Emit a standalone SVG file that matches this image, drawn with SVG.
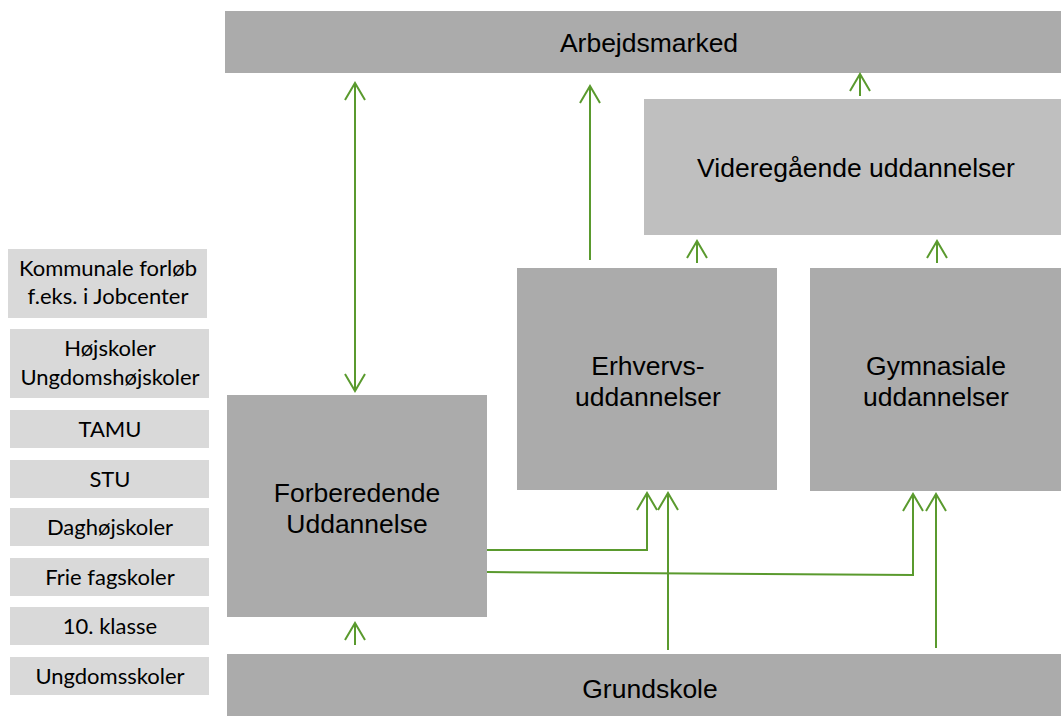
<svg xmlns="http://www.w3.org/2000/svg" width="1061" height="716" viewBox="0 0 1061 716">
<defs>
<style>
.dk{fill:#ABABAB}
.lt{fill:#BFBFBF}
.sm{fill:#D9D9D9}
.t{font-family:"Liberation Sans",Arial,sans-serif;font-size:26.5px;fill:#000;text-anchor:middle}
.s{font-family:Lato,"Noto Sans",sans-serif;font-size:22px;fill:#000;text-anchor:middle}
.c{fill:none;stroke:#5A9A2E;stroke-width:2}
</style>
<marker id="ah" viewBox="0 0 20 22" refX="18" refY="11" markerWidth="20" markerHeight="22" markerUnits="userSpaceOnUse" orient="auto-start-reverse">
<path d="M1,1 L18,11 L1,21" fill="none" stroke="#5A9A2E" stroke-width="2"/>
</marker>
</defs>
<rect width="1061" height="716" fill="#fff"/>
<g id="arbejdsmarked"><rect class="dk" x="225" y="11" width="836" height="62"/><text class="t" x="649" y="52">Arbejdsmarked</text></g>
<g id="videregaaende"><rect class="lt" x="644" y="99" width="417" height="136"/><text class="t" x="856" y="177">Videregående uddannelser</text></g>
<g id="erhvervs"><rect class="dk" x="517" y="268" width="260" height="222"/><text class="t" x="648" y="375">Erhvervs-</text><text class="t" x="648" y="406">uddannelser</text></g>
<g id="gymnasiale"><rect class="dk" x="810" y="268" width="251" height="223"/><text class="t" x="936" y="375">Gymnasiale</text><text class="t" x="936" y="406">uddannelser</text></g>
<g id="forberedende"><rect class="dk" x="227" y="395" width="260" height="222"/><text class="t" x="357" y="502">Forberedende</text><text class="t" x="357" y="533">Uddannelse</text></g>
<g id="grundskole"><rect class="dk" x="227" y="654" width="834" height="62"/><text class="t" x="650" y="698">Grundskole</text></g>
<g id="kommunale"><rect class="sm" x="8" y="249" width="199" height="69"/><text class="s" x="108" y="276">Kommunale forløb</text><text class="s" x="108" y="304">f.eks. i Jobcenter</text></g>
<g id="hojskoler"><rect class="sm" x="10" y="329" width="199" height="69"/><text class="s" x="110" y="356">Højskoler</text><text class="s" x="110" y="385">Ungdomshøjskoler</text></g>
<g id="tamu"><rect class="sm" x="10" y="410" width="199" height="38"/><text class="s" x="110" y="437">TAMU</text></g>
<g id="stu"><rect class="sm" x="10" y="460" width="199" height="38"/><text class="s" x="110" y="487">STU</text></g>
<g id="daghojskoler"><rect class="sm" x="10" y="508" width="199" height="38"/><text class="s" x="110" y="535">Daghøjskoler</text></g>
<g id="friefagskoler"><rect class="sm" x="10" y="558" width="199" height="38"/><text class="s" x="110" y="585">Frie fagskoler</text></g>
<g id="klasse10"><rect class="sm" x="10" y="607" width="199" height="38"/><text class="s" x="110" y="634">10. klasse</text></g>
<g id="ungdomsskoler"><rect class="sm" x="10" y="657" width="199" height="38"/><text class="s" x="110" y="684">Ungdomsskoler</text></g>
<g id="connectors">
<path class="c" d="M355,391 L355,83" marker-start="url(#ah)" marker-end="url(#ah)"/>
<path class="c" d="M590,260 L590,86" marker-end="url(#ah)"/>
<path class="c" d="M860,96 L860,74" marker-end="url(#ah)"/>
<path class="c" d="M697,263 L697,241" marker-end="url(#ah)"/>
<path class="c" d="M937,263 L937,241" marker-end="url(#ah)"/>
<path class="c" d="M355,645 L355,623" marker-end="url(#ah)"/>
<path class="c" d="M487,550 L647,550 L647,493" marker-end="url(#ah)"/>
<path class="c" d="M668,650 L668,493" marker-end="url(#ah)"/>
<path class="c" d="M487,572 L913,575 L913,494" marker-end="url(#ah)"/>
<path class="c" d="M936,648 L936,494" marker-end="url(#ah)"/>
</g>
</svg>
